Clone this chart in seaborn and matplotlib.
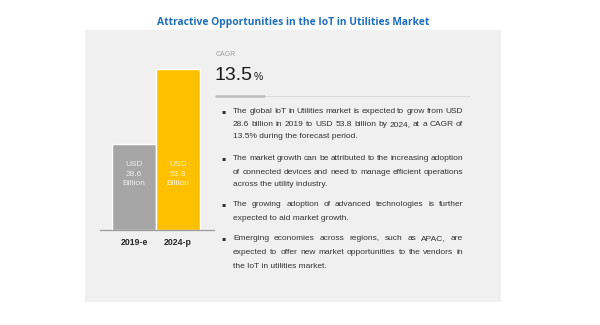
import matplotlib
matplotlib.use("Agg")
import matplotlib.pyplot as plt
import seaborn as sns
import pandas as pd
from matplotlib.patches import Rectangle
from matplotlib.lines import Line2D

# ---- data ----
years = ["2019-e", "2024-p"]
values = [28.6, 53.8]
bar_labels = ["USD\n28.6\nBillion", "USD\n53.8\nBillion"]
bar_colors = ["#A6A6A6", "#FFC000"]
bar_label_colors = ["#EDEDED", "#FFF2CC"]
title = "Attractive Opportunities in the IoT in Utilities Market"
cagr_label = "CAGR"
cagr_value = "13.5"
paragraphs = [
    ["The global IoT in Utilities market is expected to grow from USD",
     "28.6 billion in 2019 to USD 53.8 billion by 2024, at a CAGR of",
     "13.5% during the forecast period."],
    ["The market growth can be attributed to the increasing adoption",
     "of connected devices and need to manage efficient operations",
     "across the utility industry."],
    ["The growing adoption of advanced technologies is further",
     "expected to aid market growth."],
    ["Emerging economies across regions, such as APAC, are",
     "expected to offer new market opportunities to the vendors in",
     "the IoT in utilities market."],
]
line_y = [[112, 124.5, 137], [159, 172, 185], [205, 218.5], [239, 252.5, 266]]

sns.set_theme(style="white")
plt.rcParams['font.family'] = ['Liberation Sans', 'DejaVu Sans']

W, H = 600, 325
fig = plt.figure(figsize=(6, 3.25), dpi=100)
fig.patch.set_facecolor("white")

def fx(x):
    return x / W

def fy(y):
    return 1 - y / H

# panel
fig.patches.append(Rectangle((fx(85), fy(302)), fx(501) - fx(85), (302 - 30) / H,
                             transform=fig.transFigure, facecolor="#F0F0F0",
                             edgecolor="none", zorder=-5))

fig.text(fx(293), fy(22), title, ha="center", va="center", fontsize=7.4,
         fontweight="bold", color="#1F6FB8", family=["Open Sans", "DejaVu Sans"])

# bar axes
ymax = 60
ax_left, ax_right = 100, 214
base_y = 230
ax_h = 161 * ymax / 53.8
ax = fig.add_axes([fx(ax_left), fy(base_y), (ax_right - ax_left) / W, ax_h / H])
ax.set_zorder(2)
ax.set_facecolor("none")
df = pd.DataFrame({"year": years, "value": values})
sns.barplot(data=df, x="year", y="value", hue="year", palette=bar_colors,
            width=1.0, ax=ax, legend=False, saturation=1)
unit = 44.0
ax.set_xlim(-0.5 - (112 - ax_left) / unit, 1.5 + (ax_right - 200) / unit)
ax.set_ylim(0, ymax)
for s in ["top", "right", "left"]:
    ax.spines[s].set_visible(False)
ax.spines["bottom"].set_color("#9A9A9A")
ax.spines["bottom"].set_linewidth(0.9)
ax.set_yticks([])
ax.set_xlabel("")
ax.set_ylabel("")
ax.tick_params(axis="x", length=0, pad=6)
for lab in ax.get_xticklabels():
    lab.set_fontsize(6.3)
    lab.set_fontweight("bold")
    lab.set_color("#262626")
for i, (lab, c) in enumerate(zip(bar_labels, bar_label_colors)):
    ax.text(i, 18.7, lab, ha="center", va="center",
            fontsize=6.0, color=c, linespacing=1.45)

# CAGR block
fig.text(fx(216), fy(55), cagr_label, ha="left", va="center", fontsize=5,
         color="#A0A0A0")
t = fig.text(fx(215), fy(75), cagr_value, ha="left", va="center", fontsize=14,
             color="#1A1A1A")
renderer = fig.canvas.get_renderer()
bb = t.get_window_extent(renderer)
fig.text((bb.x1 + 1) / W, fy(77.5), "%", ha="left", va="center", fontsize=7.5,
         color="#1A1A1A")
fig.lines.append(Line2D([fx(264), fx(470)], [fy(96), fy(96)], transform=fig.transFigure,
                        color="#DCDCDC", lw=0.7))
fig.lines.append(Line2D([fx(216), fx(264)], [fy(96), fy(96)], transform=fig.transFigure,
                        color="#BDBDBD", lw=1.8))

# justified bullet text
x0, x1 = 233, 463
fs = 6.0
col = "#333333"
for para, ys in zip(paragraphs, line_y):
    fig.text(fx(223.5), fy(ys[0]), "\u25aa", ha="center", va="center",
             fontsize=4.5, color="#333333", family=["DejaVu Sans"])
    for li, (line, y) in enumerate(zip(para, ys)):
        last = li == len(para) - 1
        if last:
            fig.text(fx(x0), fy(y), line, ha="left", va="center", fontsize=fs, color=col)
            continue
        words = line.split(" ")
        texts = [fig.text(0, fy(y), w_, ha="left", va="center", fontsize=fs, color=col)
                 for w_ in words]
        widths = [tt.get_window_extent(renderer).width for tt in texts]
        gap = (x1 - x0 - sum(widths)) / (len(words) - 1)
        xp = x0
        for tt, wd in zip(texts, widths):
            tt.set_x(fx(xp))
            xp += wd + gap

fig.savefig("out.png", dpi=100, facecolor="white")
